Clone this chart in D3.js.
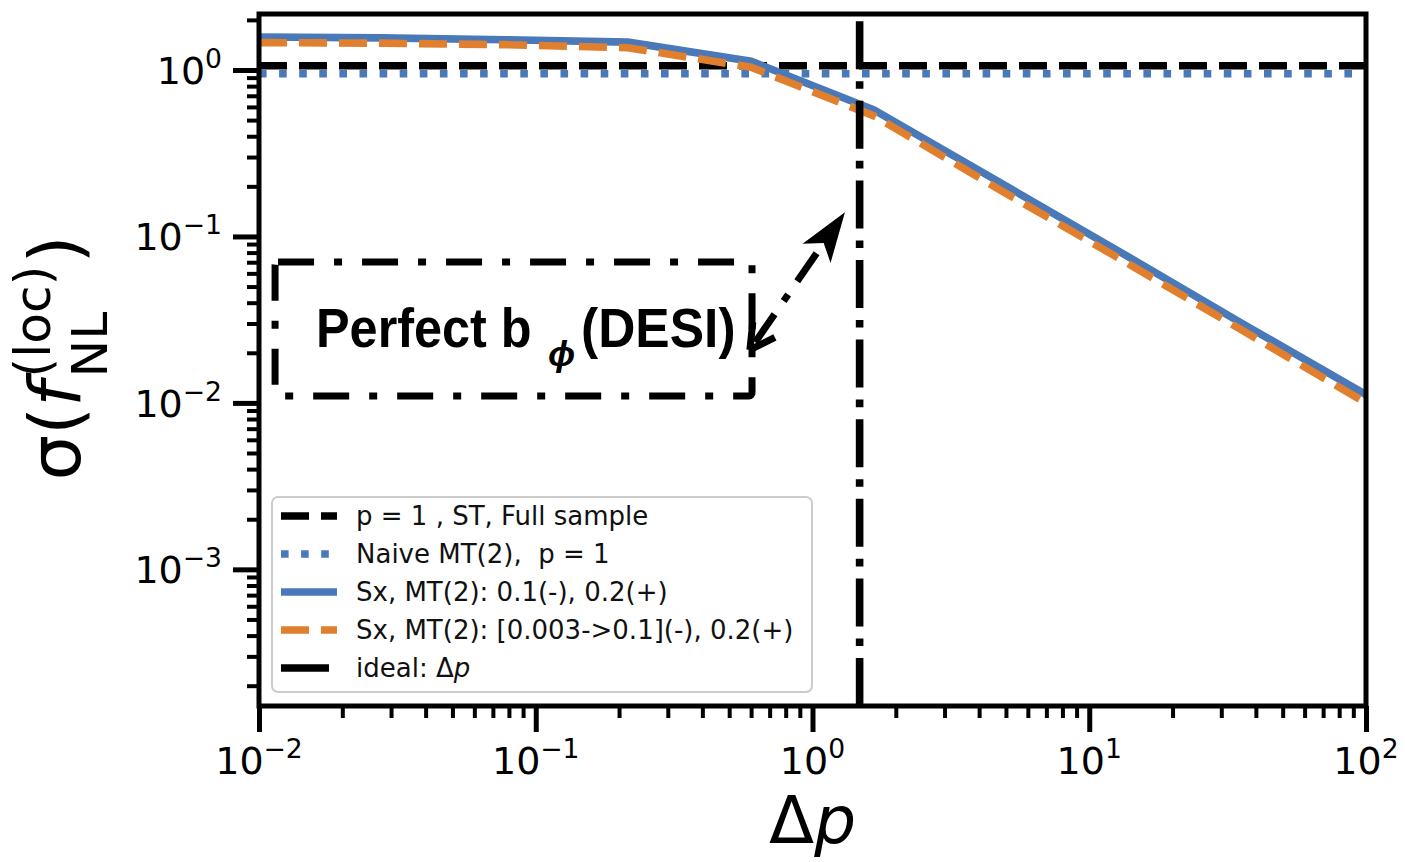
<!DOCTYPE html>
<html>
<head>
<meta charset="utf-8">
<script src="https://cdn.jsdelivr.net/npm/d3@7"></script>
<style>
  body { margin: 0; background: #fff; }
  svg { display: block; }
  text { white-space: pre; }
</style>
</head>
<body>
<svg id="chart"></svg>
<script>
const WIDTH = 1405;
const HEIGHT = 862;

const LEFT = 259;
const RIGHT = 1366;
const TOP = 14;
const BOTTOM = 706;

// axis limits
const xLimits = [1e-2, 1e2];
const yLimits = [1.51e-4, 2.17];

// tick values
const xMajor = [1e-2, 1e-1, 1e0, 1e1, 1e2];
const xMajorExp = [-2, -1, 0, 1, 2];
const yMajor = [1e-3, 1e-2, 1e-1, 1e0];
const yMajorExp = [-3, -2, -1, 0];

// sampled delta p
const deltaP = [0.01, 0.0278, 0.0774, 0.2154, 0.5995, 1.668, 4.642, 12.92, 35.94, 100];
// Sx, MT(2): 0.1(-), 0.2(+)
const sigmaSx = [1.58, 1.56, 1.52, 1.47, 1.13, 0.575, 0.216, 0.0807, 0.0298, 0.0112];
// Sx, MT(2): [0.003->0.1](-), 0.2(+)
const sigmaSxRange = [1.46, 1.45, 1.42, 1.36, 1.04, 0.53, 0.195, 0.0733, 0.0271, 0.0100];
// flat references
const sigmaST = 1.06;
const sigmaNaive = 0.95;
// ideal delta p (vertical line)
const idealDeltaP = 1.48;

const legendLabels = [
  "p = 1 , ST, Full sample",
  "Naive MT(2),  p = 1",
  "Sx, MT(2): 0.1(-), 0.2(+)",
  "Sx, MT(2): [0.003->0.1](-), 0.2(+)",
  "ideal: \u0394",
];

// annotation (data coords)
const boxCorners = [[0.01143, 0.0703], [0.6046, 0.01101]];
const arrowTip = [1.31, 0.14];
const arrowTail = [0.594, 0.0208];

const BLUE = "#4a79b9";
const ORANGE = "#e07f2e";
const LW = 7.6;

const svg = d3.select("#chart").attr("width", WIDTH).attr("height", HEIGHT);

const x = d3.scaleLog().domain(xLimits).range([LEFT, RIGHT]);
const y = d3.scaleLog().domain(yLimits).range([BOTTOM, TOP]);

svg.append("defs").append("clipPath").attr("id", "clip")
  .append("rect")
  .attr("x", LEFT).attr("y", TOP)
  .attr("width", RIGHT - LEFT).attr("height", BOTTOM - TOP);

const lineF = d3.line().x((d) => x(d[0])).y((d) => y(d[1]));

const plot = svg.append("g").attr("clip-path", "url(#clip)");

const series = [
  { pts: xLimits.map((v) => [v, sigmaST]), color: "#000", dash: "28,12" },
  { pts: xLimits.map((v) => [v, sigmaNaive]), color: BLUE, dash: "7.6,12.5" },
  { pts: deltaP.map((v, i) => [v, sigmaSx[i]]), color: BLUE, dash: null },
  { pts: deltaP.map((v, i) => [v, sigmaSxRange[i]]), color: ORANGE, dash: "28,12" },
  { pts: [[idealDeltaP, yLimits[0]], [idealDeltaP, yLimits[1]]], color: "#000", dash: "48,12,7.6,12" },
];

series.forEach((s) => {
  plot.append("path")
    .datum(s.pts)
    .attr("d", lineF)
    .attr("fill", "none")
    .attr("stroke", s.color)
    .attr("stroke-width", LW)
    .attr("stroke-dasharray", s.dash);
});

// minor ticks
const minorOf = (majors, lim) => {
  let out = [];
  majors.concat([majors[0] / 10]).forEach((m) => {
    for (let k = 2; k <= 9; k++) {
      let v = m * k;
      if (v > lim[0] && v < lim[1]) out.push(v);
    }
  });
  return out;
};

const styleAxis = (g, w) => {
  g.select(".domain").remove();
  g.selectAll("line").attr("stroke", "#000").attr("stroke-width", w);
};

svg.append("g")
  .attr("transform", `translate(0, ${BOTTOM})`)
  .call(d3.axisBottom(x).tickValues(minorOf(xMajor, xLimits)).tickSize(12).tickFormat(""))
  .call(styleAxis, 4);
svg.append("g")
  .attr("transform", `translate(0, ${BOTTOM})`)
  .call(d3.axisBottom(x).tickValues(xMajor).tickSize(26).tickFormat(""))
  .call(styleAxis, 5);
svg.append("g")
  .attr("transform", `translate(${LEFT}, 0)`)
  .call(d3.axisLeft(y).tickValues(minorOf(yMajor, yLimits)).tickSize(12).tickFormat(""))
  .call(styleAxis, 4);
svg.append("g")
  .attr("transform", `translate(${LEFT}, 0)`)
  .call(d3.axisLeft(y).tickValues(yMajor).tickSize(26).tickFormat(""))
  .call(styleAxis, 5);

// frame
svg.append("rect")
  .attr("x", LEFT).attr("y", TOP)
  .attr("width", RIGHT - LEFT).attr("height", BOTTOM - TOP)
  .attr("fill", "none").attr("stroke", "#000").attr("stroke-width", 5);

// tick labels
const TICK_FS = 38;
const powLabel = (t, e) => {
  t.append("tspan").text("10");
  t.append("tspan")
    .attr("font-size", TICK_FS * 0.7)
    .attr("dy", -16)
    .text(e < 0 ? "\u2212" + -e : "" + e);
};

xMajor.forEach((v, i) => {
  svg.append("text")
    .attr("x", x(v)).attr("y", 774)
    .attr("text-anchor", "middle")
    .attr("font-family", "DejaVu Sans").attr("font-size", TICK_FS)
    .call(powLabel, xMajorExp[i]);
});
yMajor.forEach((v, i) => {
  svg.append("text")
    .attr("x", 222).attr("y", y(v) + 14)
    .attr("text-anchor", "end")
    .attr("font-family", "DejaVu Sans").attr("font-size", TICK_FS)
    .call(powLabel, yMajorExp[i]);
});

// x label
const xl = svg.append("text")
  .attr("x", (LEFT + RIGHT) / 2).attr("y", 843)
  .attr("text-anchor", "middle")
  .attr("font-family", "DejaVu Sans").attr("font-size", 66);
xl.append("tspan").text("\u0394");
xl.append("tspan").attr("font-style", "italic").text("p");

// y label, built piece by piece
const LAB_FS = 72;
const yl = svg.append("g");
let cx = 0;
const piece = (str, opts) => {
  const t = yl.append("text")
    .attr("x", cx).attr("y", opts.dy || 0)
    .attr("font-family", "DejaVu Sans")
    .attr("font-size", opts.fs || LAB_FS)
    .attr("font-style", opts.italic ? "italic" : "normal")
    .text(str);
  return t.node().getComputedTextLength();
};
cx += piece("\u03c3(", {});
cx += piece("f", { italic: true }) + 4;
const supW = piece("(loc)", { fs: LAB_FS * 0.7, dy: -30 });
const subW = piece("NL", { fs: LAB_FS * 0.7, dy: 27 });
cx += Math.max(supW, subW) + 2;
cx += piece(")", {});
yl.attr("transform", `translate(80, ${358 + cx / 2}) rotate(-90)`);

// legend
const LEG_FS = 26;
const legend = svg.append("g");
legend.append("rect")
  .attr("x", 272).attr("y", 497)
  .attr("width", 540).attr("height", 195)
  .attr("rx", 6)
  .attr("fill", "#fff").attr("fill-opacity", 0.8)
  .attr("stroke", "#cccccc").attr("stroke-width", 2);
legendLabels.forEach((label, i) => {
  const s = series[i];
  const ry = 516 + i * 38;
  legend.append("line")
    .attr("x1", 281).attr("x2", 337)
    .attr("y1", ry).attr("y2", ry)
    .attr("stroke", s.color).attr("stroke-width", LW)
    .attr("stroke-dasharray", s.dash);
  const t = legend.append("text")
    .attr("x", 356).attr("y", ry + 9)
    .attr("font-family", "DejaVu Sans").attr("font-size", LEG_FS)
    .attr("fill", "#111");
  t.append("tspan").text(label);
  if (i === 4) t.append("tspan").attr("font-style", "italic").text("p");
});

// annotation box
const ann = svg.append("g");
ann.append("rect")
  .attr("x", x(boxCorners[0][0])).attr("y", y(boxCorners[0][1]))
  .attr("width", x(boxCorners[1][0]) - x(boxCorners[0][0]))
  .attr("height", y(boxCorners[1][1]) - y(boxCorners[0][1]))
  .attr("rx", 3)
  .attr("fill", "none").attr("stroke", "#000").attr("stroke-width", 7)
  .attr("stroke-dasharray", "36,20,8,20");

// condensed bold label pieces
const annText = (str, px, py, fs, sx, italic) => ann.append("text")
  .attr("transform", `translate(${px}, ${py}) scale(${sx}, 1)`)
  .attr("font-family", "Liberation Sans, Arial").attr("font-weight", "bold")
  .attr("font-style", italic ? "italic" : "normal")
  .attr("font-size", fs)
  .text(str);
annText("Perfect b", 316, 347, 56, 0.9);
annText("\u03d5", 548, 366, 36, 1, true);
annText("(DESI)", 581, 347, 56, 0.92);

// arrow
const tip = [x(arrowTip[0]), y(arrowTip[1])];
const tail = [x(arrowTail[0]), y(arrowTail[1])];
const dx = tip[0] - tail[0], dy = tip[1] - tail[1];
const len = Math.hypot(dx, dy);
const ux = dx / len, uy = dy / len;
const HEAD = 50, HALF = 17;
const base = [tip[0] - ux * HEAD, tip[1] - uy * HEAD];
ann.append("path")
  .attr("d", d3.line()([base, tail]))
  .attr("stroke", "#000").attr("stroke-width", 7)
  .attr("stroke-dasharray", "34,16,8,16")
  .attr("fill", "none");
ann.append("path")
  .attr("d", d3.line()([
    tip,
    [base[0] - uy * HALF, base[1] + ux * HALF],
    [tip[0] - ux * HEAD * 0.75, tip[1] - uy * HEAD * 0.75],
    [base[0] + uy * HALF, base[1] - ux * HALF],
  ]) + "Z")
  .attr("fill", "#000");
// open head at the tail end
const ARM = 28;
const rot = (a) => [ux * Math.cos(a) - uy * Math.sin(a), ux * Math.sin(a) + uy * Math.cos(a)];
[0.5, -0.5].forEach((a) => {
  const r = rot(a);
  ann.append("line")
    .attr("x1", tail[0]).attr("y1", tail[1])
    .attr("x2", tail[0] + r[0] * ARM).attr("y2", tail[1] + r[1] * ARM)
    .attr("stroke", "#000").attr("stroke-width", 7);
});
</script>
</body>
</html>
